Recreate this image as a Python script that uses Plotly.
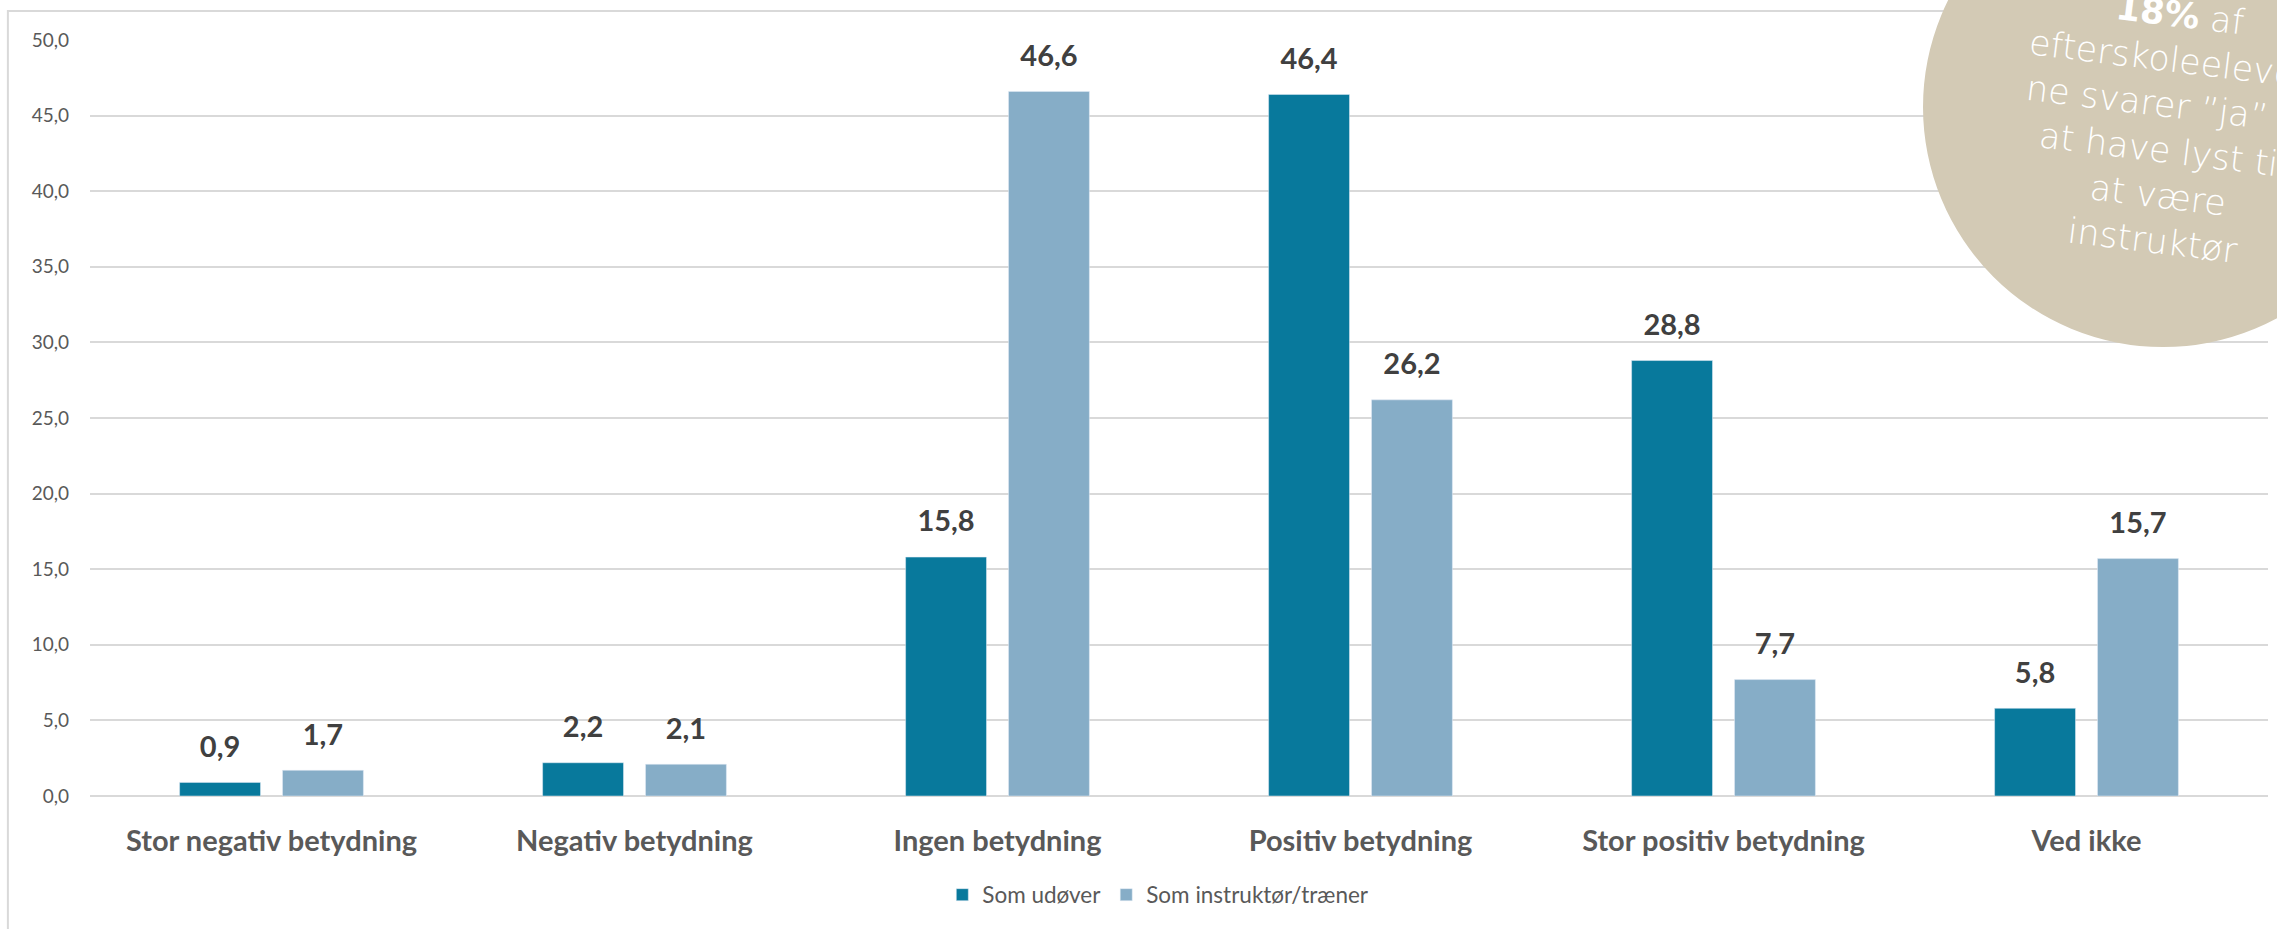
import plotly.graph_objects as go

categories = ["Stor negativ betydning", "Negativ betydning", "Ingen betydning",
              "Positiv betydning", "Stor positiv betydning", "Ved ikke"]
series_names = ["Som udøver", "Som instruktør/træner"]
som_udover = [0.9, 2.2, 15.8, 46.4, 28.8, 5.8]
som_instruktor = [1.7, 2.1, 46.6, 26.2, 7.7, 15.7]
y_ticks = [0, 5, 10, 15, 20, 25, 30, 35, 40, 45, 50]

colors = ["#08799C", "#86ADC7"]
grid = "#D9D9D9"
font = "Lato, 'Open Sans', sans-serif"

fig = go.Figure()
for name, vals, col in zip(series_names, [som_udover, som_instruktor], colors):
    fig.add_trace(go.Bar(x=categories, y=vals, name=name, marker_color=col,
                         offsetgroup=name, hoverinfo="x+y"))
# value labels, grouped like the bars
for name, vals in zip(series_names, [som_udover, som_instruktor]):
    fig.add_trace(go.Scatter(x=categories, y=vals, mode="markers+text", offsetgroup=name,
                             marker=dict(size=28, opacity=0), texttemplate="%{y:.1f}",
                             textposition="top center", showlegend=False, hoverinfo="skip",
                             textfont=dict(family=font, size=29, color="#404040", weight="bold"),
                             cliponaxis=False))

fig.update_layout(
    width=2277, height=929,
    margin=dict(l=90, r=9, t=40, b=133),
    barmode="group", bargap=0.433, bargroupgap=0.214,
    scattermode="group", scattergap=0.433,
    separators=",.",
    plot_bgcolor="white", paper_bgcolor="white",
    font=dict(family=font, color="#595959"),
    legend=dict(orientation="h", x=0.4905, xanchor="center", y=-0.131, yanchor="middle",
                font=dict(size=22.5, color="#595959"), itemclick=False),
    xaxis=dict(showgrid=False, ticks="", ticklabelstandoff=25,
               tickfont=dict(size=29, color="#595959", weight="bold")),
    yaxis=dict(range=[0, 50], tickvals=y_ticks, tickformat=".1f", showgrid=True,
               gridcolor=grid, gridwidth=2, zeroline=True, zerolinecolor=grid,
               zerolinewidth=2, ticks="", ticklabelstandoff=20,
               tickfont=dict(size=19, color="#595959")),
    shapes=[
        dict(type="rect", xref="paper", yref="paper", x0=-0.0377, y0=-0.5, x1=1.2, y1=1.0384,
             line=dict(color=grid, width=2), layer="below"),
        dict(type="circle", xref="paper", yref="paper", x0=0.8416, x1=1.062,
             y0=0.5939, y1=1.2288, fillcolor="#D3CAB5", line=dict(width=0), layer="above"),
    ],
    annotations=[
        dict(xref="paper", yref="paper", x=0.9535, y=0.884, xanchor="center", yanchor="middle",
             showarrow=False, textangle=7,
             text="<b>18%</b> af<br>efterskoleelever-<br>ne svarer ”ja” til<br>at have lyst til<br>at være<br>instruktør",
             font=dict(family="'DejaVu Sans', sans-serif", size=35, color="white", weight=300)),
    ],
)

fig.write_html("out.html", config={"displayModeBar": False},
               post_script="document.body.style.margin='0';")
